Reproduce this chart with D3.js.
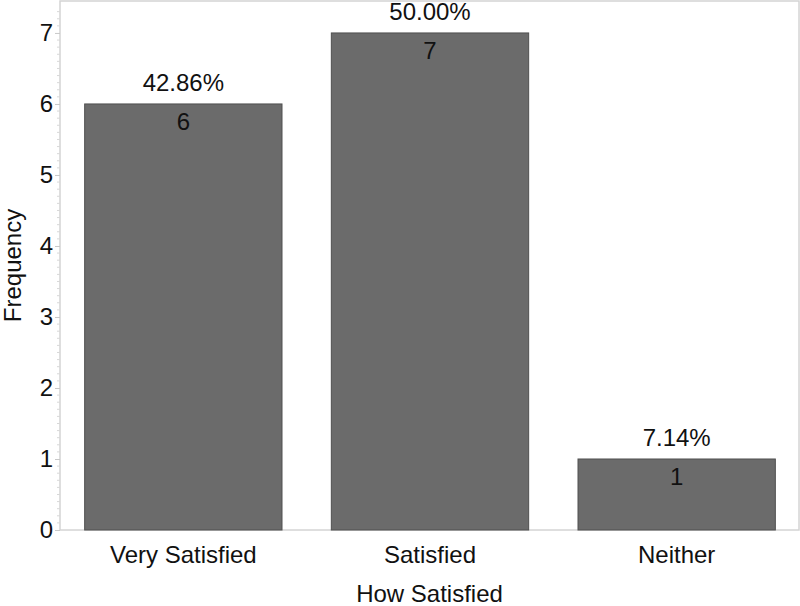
<!DOCTYPE html>
<html><head><meta charset="utf-8">
<script src="https://cdn.jsdelivr.net/npm/d3@7"></script>
<style>body{margin:0;background:#fff}svg{display:block;font-family:"Liberation Sans",Arial,sans-serif}</style>
</head><body>
<script>
const categories = ["Very Satisfied", "Satisfied", "Neither"];
const frequencies = [6, 7, 1];
const percents = ["42.86%", "50.00%", "7.14%"];
const yTicks = [0, 1, 2, 3, 4, 5, 6, 7];

const W = 800, H = 606;
const mLeft = 60, mRight = 799, mTop = 1, mBottom = 530;
const FS = 24;
const svg = d3.select("body").append("svg").attr("width", W).attr("height", H);

const x = d3.scaleBand().domain(categories).range([mLeft, mRight + 1]).paddingInner(0.2).paddingOuter(0.1);
const y = d3.scaleLinear().domain([0, 7.45]).range([mBottom, mTop]);

// frame
svg.append("rect").attr("x", mLeft).attr("y", mTop).attr("width", mRight - mLeft).attr("height", mBottom - mTop)
  .attr("fill", "none").attr("stroke", "#d4d4d4").attr("stroke-width", 1.5);

// minor ticks
const minor = d3.range(0, 74).map(i => i / 10).filter(v => Math.abs(v - Math.round(v)) > 1e-6);
svg.append("g").selectAll("line").data(minor).join("line")
  .attr("x1", mLeft - 3).attr("x2", mLeft).attr("y1", d => y(d)).attr("y2", d => y(d))
  .attr("stroke", "#d8d8d8").attr("stroke-width", 1);

// y axis
const yAxis = d3.axisLeft(y).tickValues(yTicks).tickSize(5).tickFormat(d3.format("d"));
const gy = svg.append("g").attr("transform", `translate(${mLeft},0)`).call(yAxis);
gy.select(".domain").remove();
gy.selectAll(".tick line").attr("stroke", "#c8c8c8");
gy.selectAll(".tick text").attr("font-size", FS).attr("fill", "#111").attr("x", -7).attr("font-family", "Liberation Sans, Arial, sans-serif");

// x axis
const xAxis = d3.axisBottom(x).tickSize(0);
const gx = svg.append("g").attr("transform", `translate(0,${mBottom})`).call(xAxis);
gx.select(".domain").remove();
gx.selectAll(".tick text").attr("font-size", FS).attr("fill", "#111").attr("dy", 0).attr("y", 33).attr("font-family", "Liberation Sans, Arial, sans-serif");

// bars
const data = categories.map((c, i) => ({c, v: frequencies[i], p: percents[i]}));
svg.append("g").selectAll("rect").data(data).join("rect")
  .attr("x", d => x(d.c)).attr("y", d => y(d.v)).attr("width", x.bandwidth()).attr("height", d => y(0) - y(d.v))
  .attr("fill", "#6b6b6b").attr("stroke", "#505050").attr("stroke-width", 1);

svg.append("g").selectAll("text").data(data).join("text")
  .attr("x", d => x(d.c) + x.bandwidth() / 2).attr("y", d => y(d.v) - 13)
  .attr("text-anchor", "middle").attr("font-size", FS).attr("fill", "#111").text(d => d.p);

svg.append("g").selectAll("text").data(data).join("text")
  .attr("x", d => x(d.c) + x.bandwidth() / 2).attr("y", d => y(d.v) + 26)
  .attr("text-anchor", "middle").attr("font-size", FS).attr("fill", "#111").text(d => d.v);

// titles
svg.append("text").attr("x", (mLeft + mRight) / 2).attr("y", 602).attr("text-anchor", "middle")
  .attr("font-size", FS).attr("fill", "#111").text("How Satisfied");
svg.append("text").attr("transform", `translate(21,${(mTop + mBottom) / 2}) rotate(-90)`).attr("text-anchor", "middle")
  .attr("font-size", FS).attr("fill", "#111").text("Frequency");
</script>
</body></html>
